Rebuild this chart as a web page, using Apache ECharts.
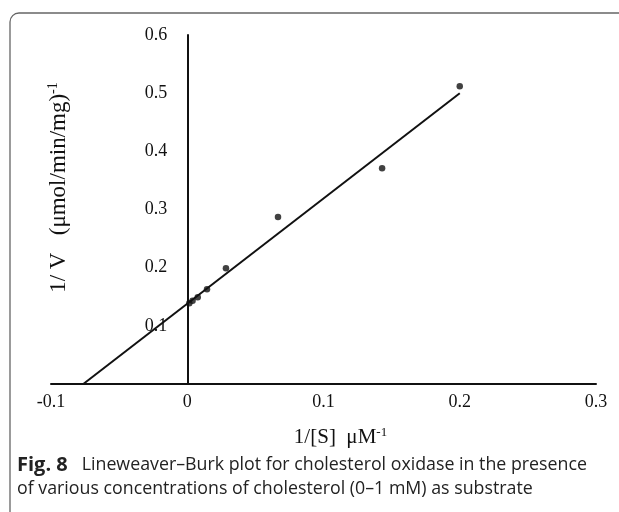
<!DOCTYPE html>
<html>
<head>
<meta charset="utf-8">
<script src="https://cdn.jsdelivr.net/npm/echarts@6/dist/echarts.min.js"></script>
<style>
  html, body { margin: 0; padding: 0; background: #fff; }
  #chart { width: 619px; height: 512px; }
</style>
</head>
<body>
<div id="chart"></div>
<script>
// 测量点 1/[S] 与 1/V
const invS = [0.2, 0.143, 0.0666, 0.0284, 0.0145, 0.0077, 0.0039, 0.0015];
const invV = [0.512, 0.371, 0.287, 0.199, 0.163, 0.149, 0.143, 0.139];

// 拟合直线的两个端点
const fitX = [-0.0763, 0.2];
const fitY = [0, 0.5];

// 刻度
const xTicks = ['-0.1', '0', '0.1', '0.2', '0.3'];
const yTicks = ['0.1', '0.2', '0.3', '0.4', '0.5', '0.6'];

const captionBold = 'Fig. 8';
const captionLine1 = 'Lineweaver–Burk plot for cholesterol oxidase in the presence';
const captionLine2 = 'of various concentrations of cholesterol (0–1 mM) as substrate';

const chart = echarts.init(document.getElementById('chart'));

const serif = 'Liberation Serif';
const points = invS.map((x, i) => [x, invV[i]]);
const fitLine = fitX.map((x, i) => [x, fitY[i]]);

// 网格尺寸，y 轴要画在 x=0 处
const gridLeft = 51;
const gridRight = 23;
const plotWidth = 619 - gridLeft - gridRight;
const yAxisShift = plotWidth * (0 - (-0.1)) / (0.3 - (-0.1));

function tickText(list, v) {
    const r = Math.round(v * 10) / 10;
    return list.find(t => Number(t) === r) || String(r);
}

const option = {
    backgroundColor: '#fff',
    animation: false,
    grid: {
        left: gridLeft, right: gridRight, top: 35, bottom: 128,
        containLabel: false,
        outerBoundsMode: 'none'
    },
    xAxis: {
        type: 'value',
        min: -0.1,
        max: 0.3,
        interval: 0.1,
        name: '{m|1/[S]  μM}{s|-1}',
        nameLocation: 'middle',
        nameGap: 42,
        nameTextStyle: {
            padding: [0, 0, 0, 34],
            rich: {
                m: { fontFamily: serif, fontSize: 21, color: '#111' },
                s: { fontFamily: serif, fontSize: 13, color: '#111', padding: [0, 0, 10, 0] }
            }
        },
        axisLine: { onZero: true, lineStyle: { color: '#111', width: 2 } },
        axisTick: { show: false },
        splitLine: { show: false },
        axisLabel: {
            margin: 9,
            fontFamily: serif,
            fontSize: 18,
            color: '#111',
            formatter: v => tickText(xTicks, v)
        }
    },
    yAxis: {
        type: 'value',
        min: 0,
        max: 0.6,
        interval: 0.1,
        offset: -yAxisShift,
        name: '{m|1/ V   (μmol/min/mg)}{s|-1}',
        nameLocation: 'middle',
        nameRotate: 90,
        nameGap: 116,
        nameTextStyle: {
            padding: [0, 0, 0, 44],
            rich: {
                m: { fontFamily: serif, fontSize: 23, color: '#111' },
                s: { fontFamily: serif, fontSize: 14, color: '#111', padding: [0, 0, 11, 0] }
            }
        },
        axisLine: { show: true, onZero: false, lineStyle: { color: '#111', width: 2 } },
        axisTick: { show: false },
        splitLine: { show: false },
        axisLabel: {
            margin: 20,
            showMinLabel: false,
            fontFamily: serif,
            fontSize: 18,
            color: '#111',
            formatter: v => tickText(yTicks, v)
        }
    },
    series: [
        {
            type: 'line',
            data: fitLine,
            showSymbol: false,
            lineStyle: { color: '#111', width: 2 },
            z: 2
        },
        {
            type: 'scatter',
            data: points,
            symbolSize: 6.5,
            itemStyle: { color: '#111' },
            z: 3
        }
    ],
    graphic: [
        {
            type: 'rect',
            shape: { x: 10, y: 13, width: 700, height: 600, r: 9 },
            style: { fill: 'none', stroke: '#666', lineWidth: 1.3 },
            silent: true
        },
        {
            type: 'text',
            left: 17,
            top: 455,
            style: {
                text: '{b|' + captionBold + '}' + captionLine1,
                fontFamily: 'Open Sans',
                fontSize: 17.8,
                fill: '#222',
                rich: {
                    b: {
                        fontFamily: 'Open Sans', fontSize: 20, fontWeight: 'bold',
                        fill: '#222', padding: [0, 14, 0, 0]
                    }
                }
            }
        },
        {
            type: 'text',
            left: 17,
            top: 480,
            style: {
                text: captionLine2,
                fontFamily: 'Open Sans',
                fontSize: 17.8,
                fill: '#222'
            }
        }
    ]
};

chart.setOption(option);
</script>
</body>
</html>
